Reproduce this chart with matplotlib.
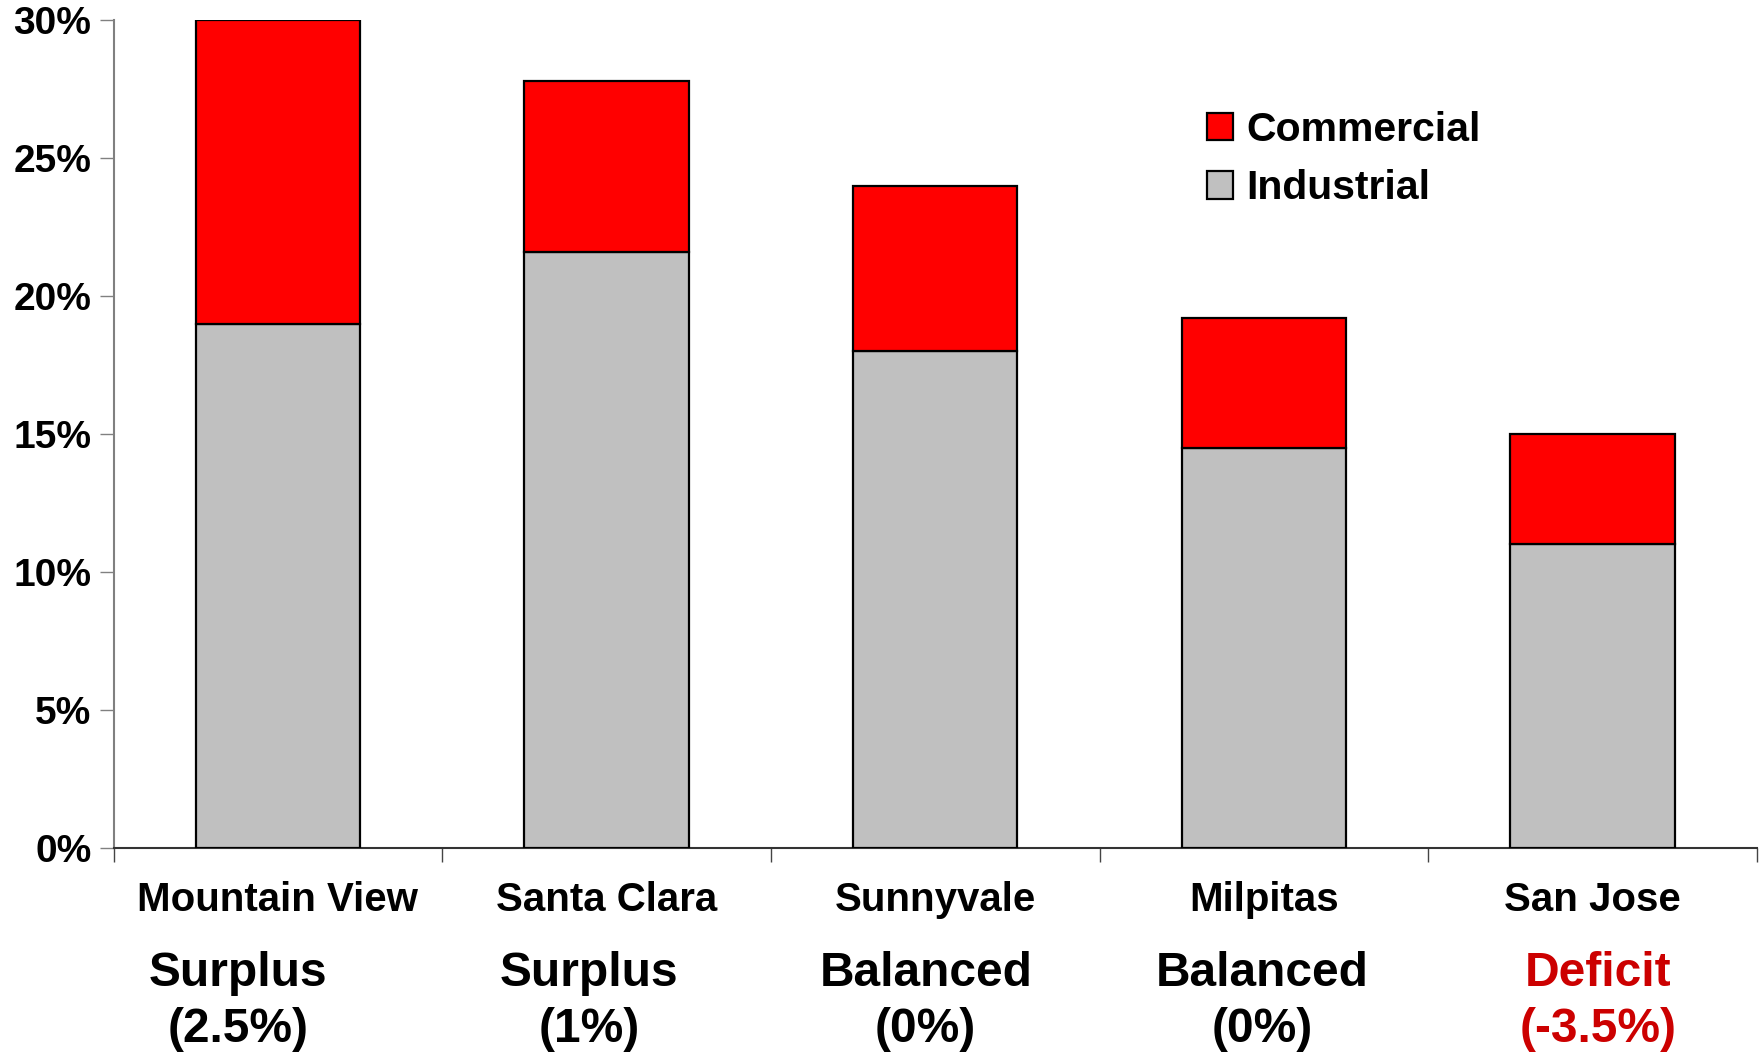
import matplotlib.pyplot as plt
from matplotlib.ticker import FuncFormatter, FixedLocator

cities = ["Mountain View", "Santa Clara", "Sunnyvale", "Milpitas", "San Jose"]
industrial = [19.0, 21.6, 18.0, 14.5, 11.0]
commercial = [11.0, 6.2, 6.0, 4.7, 4.0]
status = ["Surplus", "Surplus", "Balanced", "Balanced", "Deficit"]
balance = ["(2.5%)", "(1%)", "(0%)", "(0%)", "(-3.5%)"]

FONT = "Liberation Sans"
RED = "#FF0000"
GREY = "#C0C0C0"
DEFICIT = "#CC0000"


def main() -> None:
    plt.rcParams["font.family"] = FONT
    plt.rcParams["font.weight"] = "bold"

    fig = plt.figure(figsize=(17.64, 10.55), dpi=100)
    ax = fig.add_axes([0.0644, 0.1962, 0.9316, 0.7848])

    x = list(range(len(cities)))
    ax.bar(x, industrial, width=0.5, color=GREY, edgecolor="black",
           linewidth=1.6, label="Industrial", zorder=3)
    ax.bar(x, commercial, width=0.5, bottom=industrial, color=RED,
           edgecolor="black", linewidth=1.6, label="Commercial", zorder=3)

    ax.set_xlim(-0.5, len(cities) - 0.5)
    ax.set_ylim(0, 30)
    ax.set_yticks(range(0, 31, 5))
    ax.yaxis.set_major_formatter(FuncFormatter(lambda v, _: f"{v:.0f}%"))
    ax.tick_params(axis="y", labelsize=28, length=10, width=1,
                   color="#808080", pad=6)

    # category separators as major ticks, city names as minor tick labels
    ax.xaxis.set_major_locator(FixedLocator([i - 0.5 for i in range(len(cities) + 1)]))
    ax.xaxis.set_minor_locator(FixedLocator(x))
    ax.set_xticklabels([], minor=False)
    ax.set_xticklabels(cities, minor=True)
    ax.tick_params(axis="x", which="major", length=10, width=1, color="#444444")
    ax.tick_params(axis="x", which="minor", length=0, labelsize=29, pad=24)

    for side in ("top", "right"):
        ax.spines[side].set_visible(False)
    ax.spines["left"].set_color("#808080")
    ax.spines["left"].set_linewidth(1.5)
    ax.spines["bottom"].set_color("#333333")
    ax.spines["bottom"].set_linewidth(1.5)

    # jobs-housing balance under each city
    shifts = [-0.122, -0.053, -0.029, -0.004, 0.017]
    for i, (s, b) in enumerate(zip(status, balance)):
        c = DEFICIT if s == "Deficit" else "black"
        ax.annotate(f"{s}\n{b}", xy=(i + shifts[i], 0),
                    xycoords=("data", "axes fraction"),
                    xytext=(0, -103), textcoords="offset pixels",
                    ha="center", va="top", fontsize=34.5, color=c,
                    linespacing=1.3, annotation_clip=False)

    handles, labels = ax.get_legend_handles_labels()
    ax.legend(handles[::-1], labels[::-1], loc="upper left",
              bbox_to_anchor=(0.684, 0.895), bbox_transform=fig.transFigure,
              frameon=False, fontsize=29.5, handlelength=0.65,
              handleheight=0.65, handletextpad=0.33, labelspacing=0.5,
              borderpad=0, borderaxespad=0)

    fig.savefig("out.png", dpi=100)
    plt.close(fig)


if __name__ == "__main__":
    main()
